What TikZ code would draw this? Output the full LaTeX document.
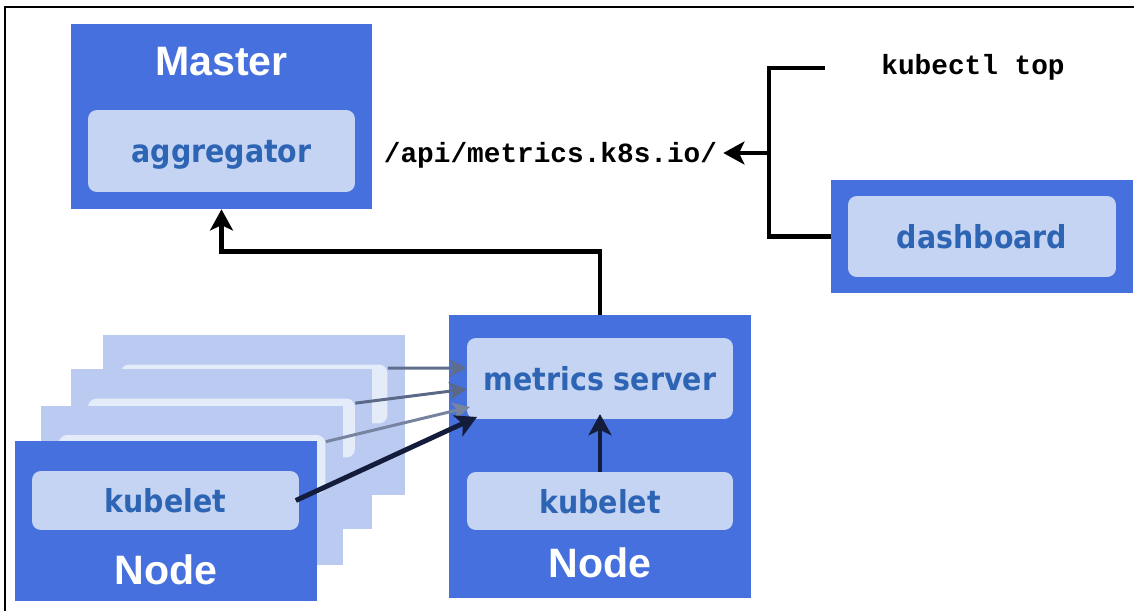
\documentclass[tikz,border=0pt]{standalone}
\usepackage{fontspec}
\usetikzlibrary{positioning, calc, arrows.meta}

\newfontfamily\titlefont{Liberation Sans}
\newfontfamily\labelfont{DejaVu Sans Condensed}
\newfontfamily\cmdfont{Liberation Mono}

\definecolor{nodeblue}{HTML}{4570DE}
\definecolor{innerblue}{HTML}{C5D4F3}
\definecolor{textblue}{HTML}{2D64B4}
\definecolor{pageblue}{HTML}{BACAF0}
\definecolor{pagewhite}{HTML}{E4EBF9}
\definecolor{navy}{HTML}{131C3A}
\definecolor{slate}{HTML}{5F6E8E}

\tikzset{
  outerbox/.style={fill=nodeblue, inner sep=0pt},
  innerbox/.style={fill=innerblue, rounded corners=5pt, inner sep=0pt, text=textblue, text depth=0pt,
    font={\labelfont\bfseries\fontsize{18pt}{21pt}\selectfont}},
  pagebox/.style={fill=pageblue, inner sep=0pt, minimum width=6.04cm, minimum height=3.2cm},
  pageinner/.style={fill=pagewhite, rounded corners=5pt, inner sep=0pt, minimum width=5.34cm, minimum height=1.18cm},
  boxtitle/.style={text=white, inner sep=0pt, font={\titlefont\bfseries\fontsize{23.4pt}{28pt}\selectfont}},
  cmd/.style={font={\cmdfont\bfseries\fontsize{15.8pt}{19pt}\selectfont}},
  conn/.style={line width=2.6pt, black},
  feed/.style={line width=1.7pt, -{Stealth[length=10pt, width=10pt, inset=2.5pt]}},
}

\begin{document}
\begin{tikzpicture}[x=0.02cm, y=-0.02cm, >={Stealth[length=12pt, width=13pt, inset=3pt]}]
    \useasboundingbox (0,0) rectangle (1134,611);

    % Frame (top and left edges only)
    \draw[line width=1.7pt] (5,611) -- (5,7) -- (1134,7);

    % Master
    \node[outerbox, minimum width=6.02cm, minimum height=3.7cm] (master) at (221.5,116.5) {};
    \node[boxtitle] (mastertitle) at (221.5,62) {Master};
    \node[innerbox, minimum width=5.34cm, minimum height=1.64cm] (aggregator) at (221.5,151) {aggregator};

    % Commands
    \node[cmd, anchor=base] (api) at (550.5,163) {/api/metrics.k8s.io/};
    \node[cmd, anchor=base] (kubectl) at (973,75) {kubectl top};

    % Dashboard
    \node[outerbox, minimum width=6.04cm, minimum height=2.26cm] (dash) at (982,236.5) {};
    \node[innerbox, minimum width=5.36cm, minimum height=1.62cm] (dashboard) at (dash) {dashboard};

    % Node stack behind
    \foreach \i/\px/\py in {3/254/415, 2/221.5/449, 1/192/485.5} {
      \node[pagebox] (page\i) at (\px,\py) {};
      \node[pageinner] (pagein\i) at ($(page\i)+(0,-21)$) {};
    }

    % Front node
    \node[outerbox, minimum width=6.04cm, minimum height=3.2cm] (nodefront) at (166,521) {};
    \node[innerbox, minimum width=5.34cm, minimum height=1.18cm] (kubeletfront) at (165.5,500.5) {kubelet};
    \node[boxtitle] (nodefronttitle) at (166,570) {Node};

    % Node with metrics server
    \node[outerbox, minimum width=6.04cm, minimum height=5.66cm] (noderight) at (600,456.5) {};
    \node[innerbox, minimum width=5.32cm, minimum height=1.62cm] (metrics) at (600,378.5) {metrics server};
    \node[innerbox, minimum width=5.32cm, minimum height=1.16cm] (kubeletright) at (600,501) {kubelet};
    \node[boxtitle] (noderighttitle) at (600,563) {Node};

    % Arrow tips on the metrics server
    \coordinate (tip3) at (467,368);
    \coordinate (tip2) at (467,389);
    \coordinate (tip1) at (470,407);
    \coordinate (tip0) at (477,417);

    % Kubelets feeding the metrics server
    \draw[feed, slate] ($(pagein3.north east)+(0,4)$) -- (tip3);
    \draw[feed, slate!95!black] ($(pagein2.north east)+(0,5)$) -- (tip2);
    \draw[feed, slate!85!white] ($(pagein1.north east)+(0,7)$) -- (tip1);
    \draw[line width=2.8pt, navy, ->] ([xshift=-2pt]kubeletfront.east) -- (tip0);
    \draw[line width=2.8pt, navy, ->, shorten >=-3pt] (kubeletright.north) -- (metrics.south);

    % Metrics server to aggregator
    \draw[conn, ->] (noderight.north) -- ++(0,-63) -| (master.south);

    % Clients of the metrics API
    \coordinate (ktop) at ($(kubectl.west)+(-50,0)$);
    \coordinate (fork) at (769,153);
    \draw[conn] (ktop |- 0,68) -| (fork) |- (dash.west);
    \draw[conn, ->] (fork) -- (fork -| api.east);
\end{tikzpicture}
\end{document}
